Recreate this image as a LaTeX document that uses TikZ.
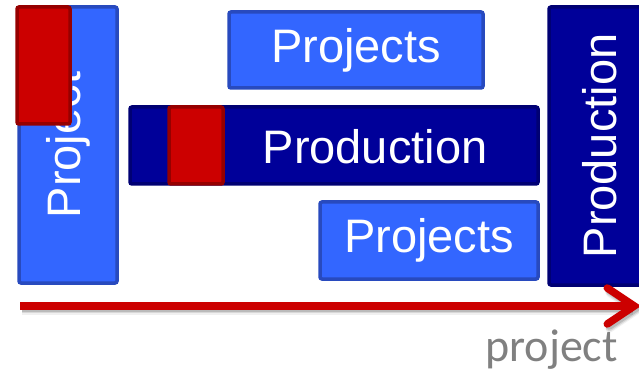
\documentclass[tikz,border=0pt]{standalone}
\usepackage{fontspec}
\setmainfont{Liberation Sans}
\newfontfamily\calfont{Carlito}
\usetikzlibrary{arrows.meta, positioning}
\definecolor{lblue}{RGB}{51,102,255}
\definecolor{lblueline}{RGB}{40,74,190}
\definecolor{dblue}{RGB}{0,0,153}
\definecolor{dblueline}{RGB}{0,0,115}
\definecolor{mred}{RGB}{204,0,0}
\definecolor{mredline}{RGB}{150,0,0}

\begin{document}
\begin{tikzpicture}[x=1pt,y=-1pt,
  box/.style={draw,line width=3.5pt,rounded corners=2pt,inner sep=0pt,
              text=white,font=\fontsize{47}{50}\selectfont},
  light/.style={box,fill=lblue,draw=lblueline},
  dark/.style={box,fill=dblue,draw=dblueline},
  redbox/.style={box,fill=mred,draw=mredline},
  arr/.style={line width=7.5pt,
              -{Straight Barb[length=27pt,width=36pt,line cap=round]}}
]
\useasboundingbox (0,0) rectangle (639,371);
\clip (0,0) rectangle (639,371);

% ── left column ─────────────────────────────────────────
\node[light,rotate=90,minimum width=276pt,minimum height=98pt] (proj) at (68,145) {Project};
\node[redbox,minimum width=53pt,minimum height=117pt] (red1) at (43.5,65.5) {};

% ── middle ──────────────────────────────────────────────
\node[light,minimum width=254pt,minimum height=76pt] (projA) at (356,50) {Projects};
\node[dark,minimum width=408pt,minimum height=77pt] (prod) at (334,145.5) {};
\node[redbox,minimum width=54pt,minimum height=77pt] (red2) at (196,145.5) {};
\node[text=white,font=\fontsize{47}{50}\selectfont,inner sep=0pt] (prodtxt) at (375,147) {Production};
\node[light,minimum width=218pt,minimum height=77pt] (projB) at (429,240.5) {Projects};

% ── right column ────────────────────────────────────────
\node[dark,rotate=90,minimum width=278pt,minimum height=102pt] (prodV) at (600,146) {Production};

% ── time axis ───────────────────────────────────────────
\coordinate (a0) at (20,306);
\coordinate (a1) at (641,306);
\foreach \s/\o in {5/0.06,3.5/0.1,2/0.14}
  \draw[arr,black,opacity=\o] ([shift={(2,\s)}]a0) -- ([shift={(2,\s)}]a1);
\draw[arr,mred] (a0) -- (a1);
\node[anchor=base east,inner sep=0pt,text=black!50,
      font=\calfont\fontsize{46}{50}\selectfont] (lbl) at (618,361) {project};

\end{tikzpicture}
\end{document}
